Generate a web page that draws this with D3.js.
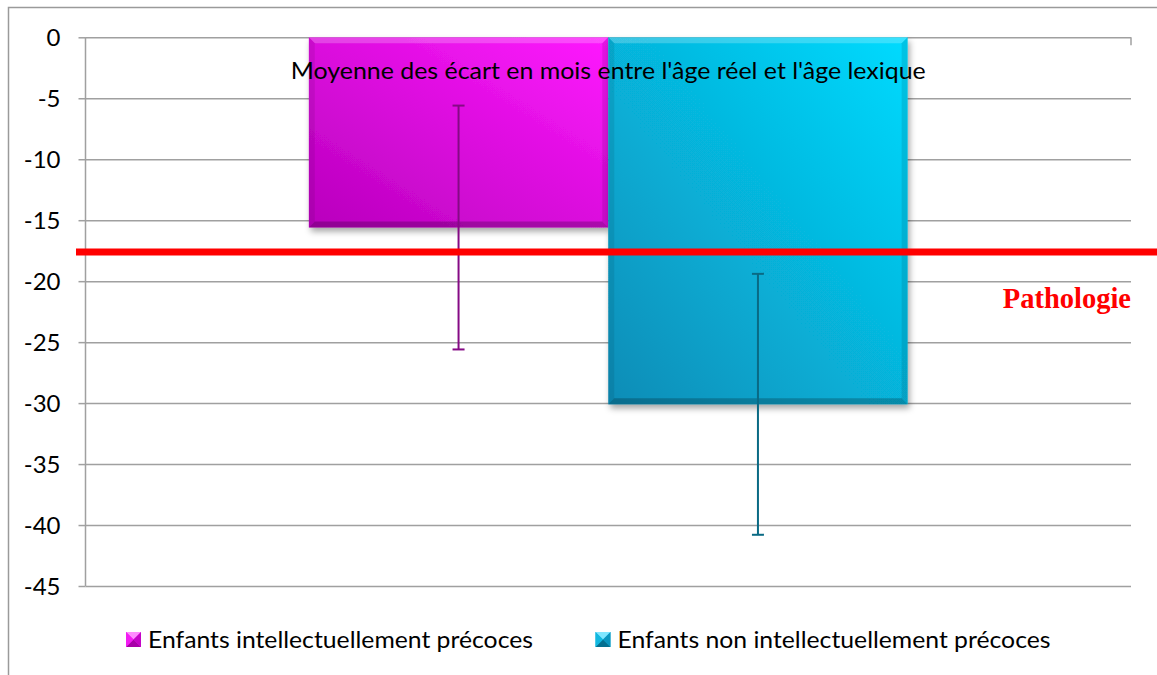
<!DOCTYPE html>
<html><head><meta charset="utf-8">
<script src="https://cdn.jsdelivr.net/npm/d3@7"></script>
<style>body{margin:0;background:#fff} svg{display:block}</style>
</head><body><svg id="c" width="1157" height="675"></svg>
<script>
// ---- data ----
const categories = ["Moyenne des écart en mois entre l'âge réel et l'âge lexique"];
const seriesNames = ["Enfants intellectuellement précoces", "Enfants non intellectuellement précoces"];
const seriesValues = [-15.6, -30.1];
const errorValues = [10.0, 10.7];
const thresholdValue = -17.6;
const thresholdLabel = "Pathologie";
const yTicks = [0, -5, -10, -15, -20, -25, -30, -35, -40, -45];

// ---- styles ----
const seriesStyle = [
  {dark: "#b800bc", light: "#ff1aff", err: "#850a85", legTop: "#ff8cff", legMid: "#f21cf2", legBot: "#a800a8"},
  {dark: "#0a8cb6", light: "#03dbff", err: "#0a6a84", legTop: "#7fe6ff", legMid: "#12b8e0", legBot: "#046f90"}
];
const font = "Lato, 'Open Sans', sans-serif";

const svg = d3.select("#c");
const W = 1157, H = 675;
const plot = {left: 85.5, right: 1131, top: 37.3, bottom: 586};

const defs = svg.append("defs");
seriesStyle.forEach((s, i) => {
  const g = defs.append("linearGradient").attr("id", "g" + i)
    .attr("x1", 0).attr("y1", 1).attr("x2", 1).attr("y2", 0);
  g.append("stop").attr("offset", 0).attr("stop-color", s.dark);
  g.append("stop").attr("offset", 1).attr("stop-color", s.light);
});
const f = defs.append("filter").attr("id", "sh").attr("x", "-10%").attr("y", "-10%").attr("width", "130%").attr("height", "130%");
f.append("feDropShadow").attr("dx", 2).attr("dy", 4).attr("stdDeviation", 3)
  .attr("flood-color", "#000").attr("flood-opacity", 0.35);

// outer border
svg.append("path").attr("d", `M8.5,${H} L8.5,7.5 L${W},7.5`)
  .attr("fill", "none").attr("stroke", "#9a9a9a").attr("stroke-width", 1.5);

// scales
const y = d3.scaleLinear().domain([-45, 0]).range([plot.bottom, plot.top]);
const x0 = d3.scaleBand().domain(categories).range([plot.left, plot.right]).paddingInner(0).paddingOuter(0.373);
const x1 = d3.scaleBand().domain(seriesNames).range([0, x0.bandwidth()]).padding(0);

// gridlines
const grid = svg.append("g").attr("transform", `translate(${plot.left},0)`)
  .call(d3.axisLeft(y).tickValues(yTicks).tickSizeInner(-(plot.right - plot.left)).tickSizeOuter(0).tickFormat(""));
grid.select(".domain").remove();
grid.selectAll("line").attr("stroke", "#a0a0a0").attr("stroke-width", 1.5);

// y axis with labels
const ax = svg.append("g").attr("transform", `translate(${plot.left},0)`)
  .call(d3.axisLeft(y).tickValues(yTicks).tickSize(7).tickPadding(18).tickFormat(d => String(d)));
ax.select(".domain").attr("stroke", "#a0a0a0").attr("stroke-width", 1.5)
  .attr("d", `M0,${plot.top}V${plot.bottom}`);
ax.selectAll(".tick line").attr("stroke", "#a0a0a0").attr("stroke-width", 1.5);
ax.selectAll(".tick text").attr("font-family", font).attr("font-size", 24).attr("fill", "#000").attr("dy", "0.36em");

// category axis tick at right end (axis crosses at 0)
svg.append("line").attr("x1", plot.right).attr("x2", plot.right).attr("y1", y(0)).attr("y2", y(0) + 8)
  .attr("stroke", "#a0a0a0").attr("stroke-width", 1.5);

// bars
const bars = svg.append("g");
const data = seriesNames.map((n, i) => ({name: n, v: seriesValues[i], e: errorValues[i], i}));
data.forEach(d => {
  const bx = x0(categories[0]) + x1(d.name), bw = x1.bandwidth();
  const by = y(0), bh = y(d.v) - y(0);
  const g = bars.append("g");
  g.append("rect").attr("x", bx).attr("y", by).attr("width", bw).attr("height", bh)
    .attr("fill", `url(#g${d.i})`).attr("filter", "url(#sh)");
  const b = 6;
  const strips = [
    {pts: [[bx, by], [bx + bw, by], [bx + bw - b, by + b], [bx + b, by + b]], c: "#fff", o: 0.22},
    {pts: [[bx, by], [bx + b, by + b], [bx + b, by + bh - b], [bx, by + bh]], c: "#000", o: 0.08},
    {pts: [[bx + bw, by], [bx + bw, by + bh], [bx + bw - b, by + bh - b], [bx + bw - b, by + b]], c: "#000", o: 0.1},
    {pts: [[bx, by + bh], [bx + b, by + bh - b], [bx + bw - b, by + bh - b], [bx + bw, by + bh]], c: "#000", o: 0.22}
  ];
  strips.forEach(s => g.append("path").attr("d", "M" + s.pts.map(p => p.join(",")).join("L") + "Z")
    .attr("fill", s.c).attr("fill-opacity", s.o));
});

// error bars
data.forEach(d => {
  const cx = x0(categories[0]) + x1(d.name) + x1.bandwidth() / 2;
  const col = seriesStyle[d.i].err;
  const g = svg.append("g").attr("stroke", col).attr("stroke-width", 2);
  g.append("line").attr("x1", cx).attr("x2", cx).attr("y1", y(d.v + d.e)).attr("y2", y(d.v - d.e));
  [d.v + d.e, d.v - d.e].forEach(v => g.append("line").attr("x1", cx - 6).attr("x2", cx + 6).attr("y1", y(v)).attr("y2", y(v)));
});

// title / category label
svg.append("text").attr("x", (plot.left + plot.right) / 2).attr("y", 79)
  .attr("text-anchor", "middle").attr("font-family", font).attr("font-size", 23.5).attr("fill", "#000")
  .attr("textLength", 635).attr("lengthAdjust", "spacingAndGlyphs")
  .text(categories[0]);

// threshold line
svg.append("line").attr("x1", 76).attr("x2", W).attr("y1", y(thresholdValue)).attr("y2", y(thresholdValue))
  .attr("stroke", "#ff0000").attr("stroke-width", 7);
svg.append("text").attr("x", 1131).attr("y", 308).attr("text-anchor", "end")
  .attr("font-family", "'Liberation Serif', 'DejaVu Serif', serif").attr("font-weight", "bold")
  .attr("font-size", 28.5).attr("fill", "#ff0000").text(thresholdLabel);

// legend
const legX = [126, 595.5], legTextLen = [385, 433];
data.forEach(d => {
  const s = seriesStyle[d.i], lx = legX[d.i], ly = 632, sz = 15, c = sz / 2;
  const g = svg.append("g").attr("transform", `translate(${lx},${ly})`);
  g.append("rect").attr("width", sz).attr("height", sz).attr("fill", s.legMid);
  g.append("path").attr("d", `M0,0L${sz},0L${c},${c}Z`).attr("fill", s.legTop);
  g.append("path").attr("d", `M0,${sz}L${sz},${sz}L${c},${c}Z`).attr("fill", s.legBot);
  g.append("path").attr("d", `M0,0L0,${sz}L${c},${c}Z`).attr("fill", s.legMid);
  g.append("path").attr("d", `M${sz},0L${sz},${sz}L${c},${c}Z`).attr("fill", s.dark).attr("fill-opacity", 0.8);
  svg.append("text").attr("x", lx + 22).attr("y", 648).attr("font-family", font).attr("font-size", 23.5)
    .attr("fill", "#000").attr("textLength", legTextLen[d.i]).attr("lengthAdjust", "spacingAndGlyphs")
    .text(d.name);
});
</script></body></html>
